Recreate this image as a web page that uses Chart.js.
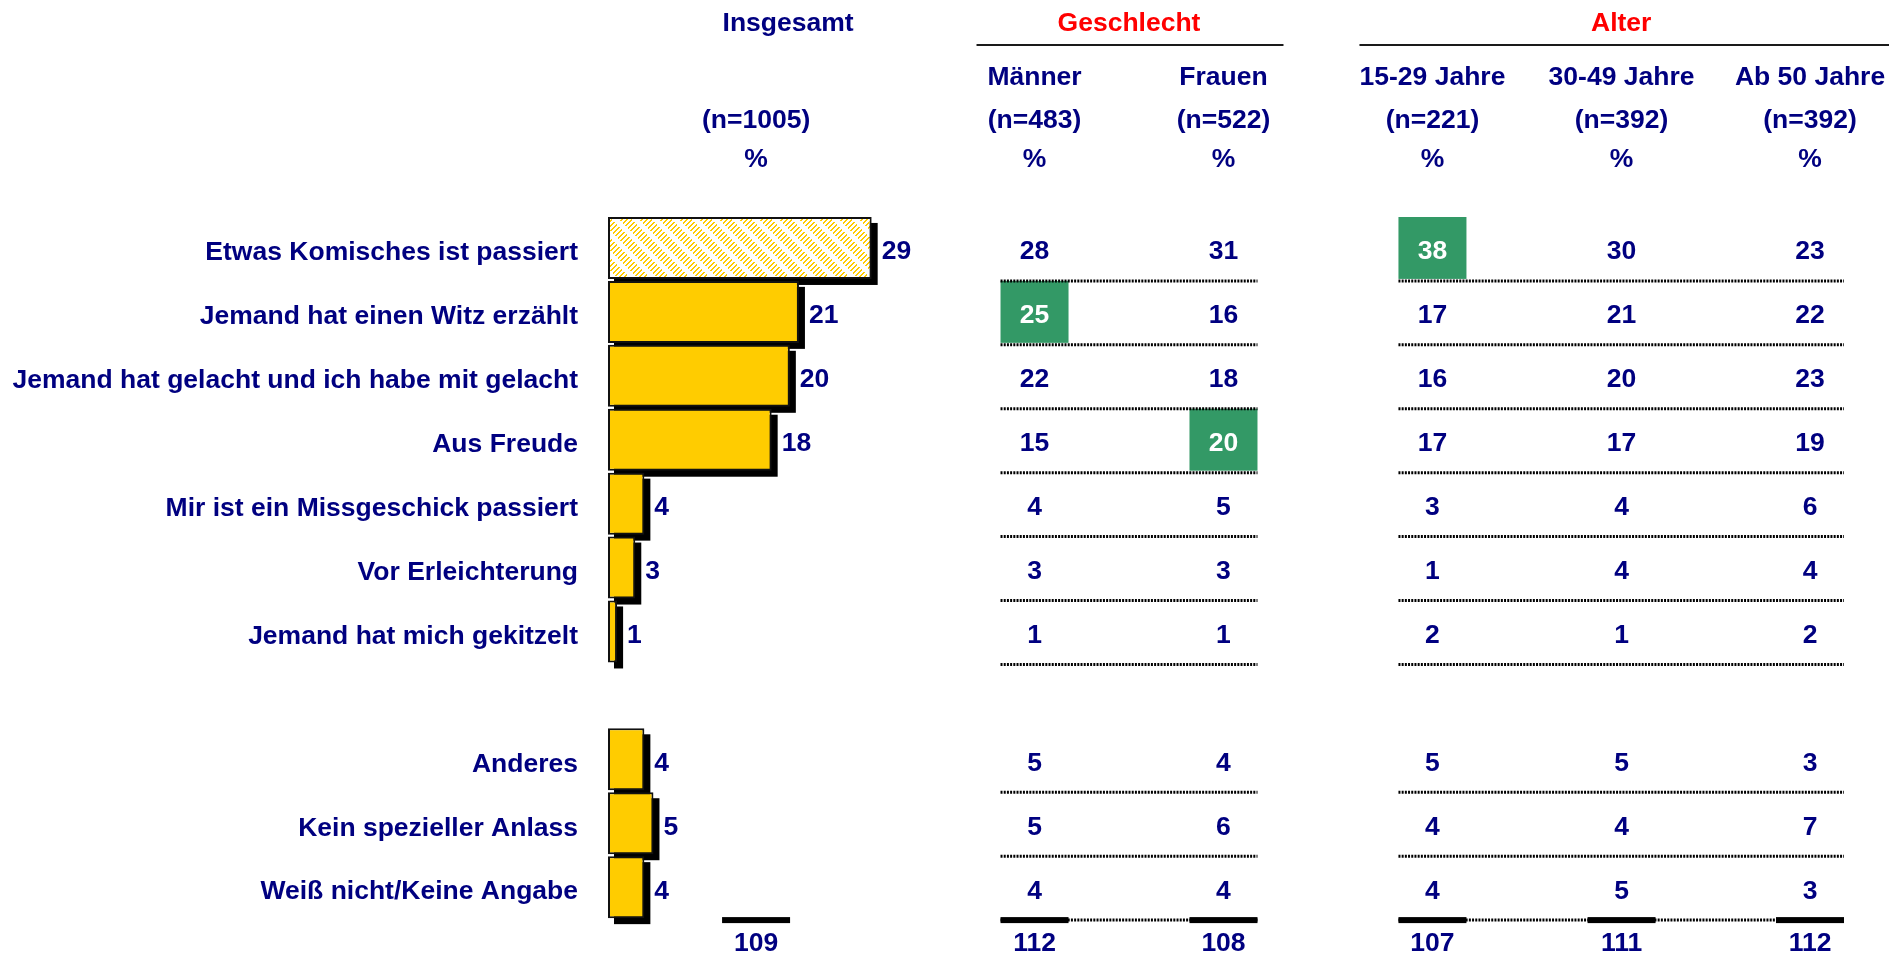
<!DOCTYPE html>
<html lang="de">
<head>
    <meta charset="UTF-8">
    <title>Anlass zum Lachen</title>
    <style>
        body {
            margin: 0;
            background: #ffffff;
        }

        canvas {
            display: block;
        }
    </style>
</head>
<body>

    <canvas id="lachChart" width="1902" height="957"></canvas>

    <script src="https://cdn.jsdelivr.net/npm/chart.js"></script>

    <script>
        // Zeilen der Tabelle (leere Zeile = Abstand zwischen den beiden Blöcken)
        const anlaesse = [
            'Etwas Komisches ist passiert',
            'Jemand hat einen Witz erzählt',
            'Jemand hat gelacht und ich habe mit gelacht',
            'Aus Freude',
            'Mir ist ein Missgeschick passiert',
            'Vor Erleichterung',
            'Jemand hat mich gekitzelt',
            '',
            'Anderes',
            'Kein spezieller Anlass',
            'Weiß nicht/Keine Angabe'
        ];

        // Werte in %
        const insgesamt = [29, 21, 20, 18, 4, 3, 1, null, 4, 5, 4];
        const maenner   = [28, 25, 22, 15, 4, 3, 1, null, 5, 5, 4];
        const frauen    = [31, 16, 18, 20, 5, 3, 1, null, 4, 6, 4];
        const alter1529 = [38, 17, 16, 17, 3, 1, 2, null, 5, 4, 4];
        const alter3049 = [30, 21, 20, 17, 4, 4, 1, null, 5, 4, 5];
        const alterAb50 = [23, 22, 23, 19, 6, 4, 2, null, 3, 7, 3];

        // Spaltenköpfe
        const spalten  = ['Männer', 'Frauen', '15-29 Jahre', '30-49 Jahre', 'Ab 50 Jahre'];
        const spaltenN = ['(n=483)', '(n=522)', '(n=221)', '(n=392)', '(n=392)'];
        const gesamtTitel = 'Insgesamt';
        const gesamtN = '(n=1005)';
        const gruppen = ['Geschlecht', 'Alter'];
        const gruppenSpalten = [[0, 1], [2, 4]];

        // Summen: Insgesamt, Männer, Frauen, 15-29, 30-49, ab 50
        const summen = [109, 112, 108, 107, 111, 112];

        // hervorgehobene Zellen: [Zeile, Spalte]
        const markiert = [[0, 2], [1, 0], [3, 1]];

        const tabelle = [maenner, frauen, alter1529, alter3049, alterAb50];

        // Layout (Positionen auf der versteckten Spaltenachse 0..100)
        const spaltenPos = [11.55, 33.27, 48.01, 64.31, 79.06, 93.76];
        const gruppenRand = [[58, 60], [73, 79]];
        const zellBreite = 68;

        const SCHRIFT = "'Liberation Sans', Arial, sans-serif";
        const NAVY = '#000080';
        const GRUEN = '#339966';

        // Schraffur für den ersten Balken: gestrichelte Diagonalen (nach rechts oben)
        function schraffur(ctx) {
            const c = document.createElement('canvas');
            c.width = 20;
            c.height = 20;
            const g = c.getContext('2d');
            g.fillStyle = '#ffffff';
            g.fillRect(0, 0, 20, 20);
            g.fillStyle = '#FFCC00';
            for (let y = 0; y < 20; y++) {
                for (let x = 0; x < 20; x++) {
                    if ((x + y) % 5 < 2 && ((x - y + 40) % 20) < 13) {
                        g.fillRect(x, y, 1, 1);
                    }
                }
            }
            return ctx.createPattern(c, 'repeat');
        }

        const schatten = {
            id: 'schatten',
            beforeDatasetsDraw(chart) {
                const ctx = chart.ctx;
                ctx.save();
                ctx.fillStyle = '#000000';
                chart.getDatasetMeta(0).data.forEach((bar, i) => {
                    if (insgesamt[i] === null) return;
                    const p = bar.getProps(['x', 'y', 'base', 'height'], true);
                    ctx.fillRect(p.base + 6, p.y - p.height / 2 + 6, p.x - p.base, p.height);
                });
                ctx.restore();
            },
            afterDatasetsDraw(chart) {
                const ctx = chart.ctx;
                ctx.save();
                ctx.font = 'bold 26.5px ' + SCHRIFT;
                ctx.fillStyle = NAVY;
                ctx.textAlign = 'left';
                ctx.textBaseline = 'alphabetic';
                chart.getDatasetMeta(0).data.forEach((bar, i) => {
                    if (insgesamt[i] === null) return;
                    const p = bar.getProps(['x', 'y'], true);
                    ctx.fillText(insgesamt[i], p.x + 10, p.y + 11.5);
                });
                ctx.restore();
            }
        };

        const tabellenPlugin = {
            id: 'tabelle',
            afterDraw(chart) {
                const ctx = chart.ctx;
                const yS = chart.scales.y;
                const cx = chart.scales.cx;
                const top = chart.chartArea.top;
                const bottom = chart.chartArea.bottom;
                const zeilenH = yS.getPixelForValue(1) - yS.getPixelForValue(0);
                const spalteX = (k) => cx.getPixelForValue(spaltenPos[k]);

                ctx.save();
                ctx.textAlign = 'center';
                ctx.textBaseline = 'alphabetic';
                ctx.font = 'bold 26.5px ' + SCHRIFT;

                // Kopf Insgesamt
                ctx.fillStyle = NAVY;
                ctx.fillText(gesamtTitel, spalteX(0) + 32, top - 185);
                ctx.fillText(gesamtN, spalteX(0), top - 88);
                ctx.fillText('%', spalteX(0), top - 49);

                // Gruppenköpfe
                gruppen.forEach((titel, g) => {
                    const a = spalteX(gruppenSpalten[g][0] + 1);
                    const b = spalteX(gruppenSpalten[g][1] + 1);
                    ctx.fillStyle = '#FF0000';
                    ctx.fillText(titel, (a + b) / 2, top - 185);
                    ctx.strokeStyle = '#1a1a1a';
                    ctx.lineWidth = 2;
                    ctx.beginPath();
                    ctx.moveTo(a - gruppenRand[g][0], top - 171);
                    ctx.lineTo(b + gruppenRand[g][1], top - 171);
                    ctx.stroke();
                });

                // Spaltenköpfe
                ctx.fillStyle = NAVY;
                spalten.forEach((name, k) => {
                    ctx.fillText(name, spalteX(k + 1), top - 131);
                    ctx.fillText(spaltenN[k], spalteX(k + 1), top - 88);
                    ctx.fillText('%', spalteX(k + 1), top - 49);
                });

                // grüne Markierungen
                markiert.forEach(([z, k]) => {
                    const yc = yS.getPixelForValue(z);
                    ctx.fillStyle = GRUEN;
                    ctx.fillRect(spalteX(k + 1) - zellBreite / 2, yc - zeilenH / 2 + 1, zellBreite, zeilenH - 2);
                });

                // Werte und gepunktete Linien
                const links1 = spalteX(1) - zellBreite / 2, rechts1 = spalteX(2) + zellBreite / 2;
                const links2 = spalteX(3) - zellBreite / 2, rechts2 = spalteX(5) + zellBreite / 2;
                anlaesse.forEach((_, z) => {
                    if (maenner[z] === null) return;
                    const yc = yS.getPixelForValue(z);
                    tabelle.forEach((werte, k) => {
                        const hell = markiert.some(m => m[0] === z && m[1] === k);
                        ctx.fillStyle = hell ? '#ffffff' : NAVY;
                        ctx.fillText(werte[z], spalteX(k + 1), yc + 11.5);
                    });
                    const yl = yc + zeilenH / 2 + 1;
                    ctx.strokeStyle = '#000000';
                    ctx.lineWidth = 3;
                    ctx.setLineDash([2, 1.2]);
                    ctx.beginPath();
                    ctx.moveTo(links1, yl);
                    ctx.lineTo(rechts1, yl);
                    ctx.moveTo(links2, yl);
                    ctx.lineTo(rechts2, yl);
                    ctx.stroke();
                    ctx.setLineDash([]);
                });

                // Summenzeile
                summen.forEach((s, k) => {
                    ctx.fillStyle = '#000000';
                    ctx.fillRect(spalteX(k) - zellBreite / 2, bottom - 2, zellBreite, 6);
                    ctx.fillStyle = NAVY;
                    ctx.fillText(s, spalteX(k), bottom + 32);
                });

                ctx.restore();
            }
        };

        const ctx = document.getElementById('lachChart').getContext('2d');
        const balkenFarben = insgesamt.map((v, i) => i === 0 ? schraffur(ctx) : '#FFCC00');

        new Chart(ctx, {
            type: 'bar',
            data: {
                labels: anlaesse,
                datasets: [{
                    label: 'Insgesamt',
                    data: insgesamt,
                    backgroundColor: balkenFarben,
                    borderColor: '#111111',
                    borderWidth: 2,
                    borderSkipped: false,
                    categoryPercentage: 1,
                    barPercentage: 0.97
                }]
            },
            options: {
                indexAxis: 'y',
                responsive: false,
                animation: false,
                layout: {
                    padding: { top: 216, bottom: 37, left: 0, right: 12 }
                },
                plugins: {
                    legend: { display: false },
                    tooltip: { enabled: false }
                },
                scales: {
                    x: {
                        type: 'linear',
                        min: 0,
                        max: 141,
                        display: false
                    },
                    cx: {
                        type: 'linear',
                        axis: 'x',
                        min: 0,
                        max: 100,
                        display: false
                    },
                    y: {
                        type: 'category',
                        grid: { display: false },
                        border: { display: false },
                        ticks: {
                            autoSkip: false,
                            padding: 22,
                            labelOffset: 5,
                            color: NAVY,
                            font: { family: SCHRIFT, size: 26.5, weight: 'bold' }
                        },
                        afterFit(scale) {
                            scale.width = 608;
                        }
                    }
                }
            },
            plugins: [schatten, tabellenPlugin]
        });
    </script>
</body>
</html>
